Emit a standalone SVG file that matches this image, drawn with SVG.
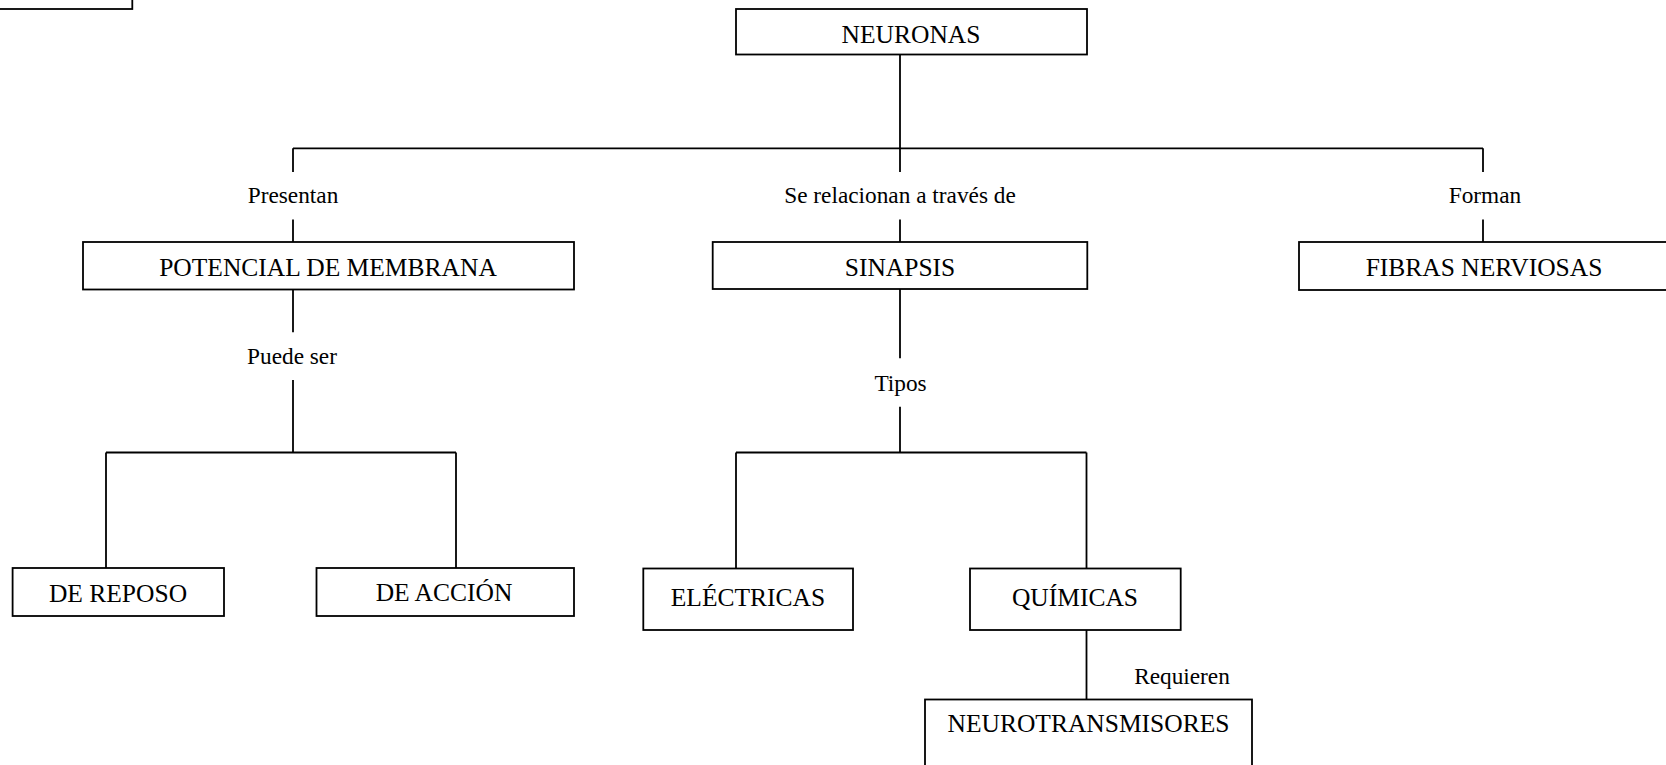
<svg xmlns="http://www.w3.org/2000/svg" width="1666" height="765" viewBox="0 0 1666 765">
  <style>
    .box { fill: #ffffff; stroke: #000000; stroke-width: 1.8; }
    .link { fill: none; stroke: #000000; stroke-width: 1.8; }
    .title { font-family: "Liberation Serif", "Times New Roman", serif; font-size: 25.5px; fill: #000000; text-anchor: middle; }
    .label { font-family: "Liberation Serif", "Times New Roman", serif; font-size: 23.3px; fill: #000000; text-anchor: middle; }
  </style>
  <rect width="1666" height="765" fill="#ffffff"/>

  <!-- connectors -->
  <g id="connectors" class="link">
    <path d="M900 54.5 V172"/>
    <path d="M293 148.3 H1483"/>
    <path d="M293 148.3 V172"/>
    <path d="M1483 148.3 V172"/>
    <path d="M293 219.5 V242"/>
    <path d="M900 219.5 V242"/>
    <path d="M1483 219.5 V242"/>
    <path d="M293 289.5 V332.3"/>
    <path d="M293 380 V452.5"/>
    <path d="M106 452.5 H456"/>
    <path d="M106 452.5 V568"/>
    <path d="M456 452.5 V568"/>
    <path d="M900 289 V358.3"/>
    <path d="M900 406.7 V452.5"/>
    <path d="M736 452.5 H1086.5"/>
    <path d="M736 452.5 V568.5"/>
    <path d="M1086.5 452.5 V568.5"/>
    <path d="M1086.5 630 V699.5"/>
  </g>

  <!-- link labels -->
  <g id="labels" class="label">
    <text x="293" y="203">Presentan</text>
    <text x="900" y="203">Se relacionan a través de</text>
    <text x="1485" y="203">Forman</text>
    <text x="292" y="364.3">Puede ser</text>
    <text x="900.5" y="391">Tipos</text>
    <text x="1182" y="684">Requieren</text>
  </g>

  <!-- nodes -->
  <g id="node-corner">
    <rect class="box" x="-10" y="-40" width="142.3" height="49"/>
  </g>
  <g id="node-neuronas">
    <rect class="box" x="736" y="9" width="351" height="45.5"/>
    <text class="title" x="911" y="42.5">NEURONAS</text>
  </g>
  <g id="node-potencial">
    <rect class="box" x="83" y="242" width="491" height="47.5"/>
    <text class="title" x="328" y="275.5">POTENCIAL DE MEMBRANA</text>
  </g>
  <g id="node-sinapsis">
    <rect class="box" x="712.7" y="242" width="374.6" height="47"/>
    <text class="title" x="900" y="275.5">SINAPSIS</text>
  </g>
  <g id="node-fibras">
    <rect class="box" x="1299" y="242" width="400" height="48"/>
    <text class="title" x="1484" y="275.5">FIBRAS NERVIOSAS</text>
  </g>
  <g id="node-reposo">
    <rect class="box" x="12.6" y="568" width="211.4" height="48"/>
    <text class="title" x="118" y="601.7">DE REPOSO</text>
  </g>
  <g id="node-accion">
    <rect class="box" x="316.5" y="568" width="257.5" height="48"/>
    <text class="title" x="444" y="601">DE ACCIÓN</text>
  </g>
  <g id="node-electricas">
    <rect class="box" x="643.3" y="568.5" width="209.7" height="61.5"/>
    <text class="title" x="748" y="605.5">ELÉCTRICAS</text>
  </g>
  <g id="node-quimicas">
    <rect class="box" x="970" y="568.5" width="210.7" height="61.5"/>
    <text class="title" x="1075" y="605.5">QUÍMICAS</text>
  </g>
  <g id="node-neurotransmisores">
    <rect class="box" x="925" y="699.5" width="327" height="80"/>
    <text class="title" x="1088.5" y="732">NEUROTRANSMISORES</text>
  </g>
</svg>
